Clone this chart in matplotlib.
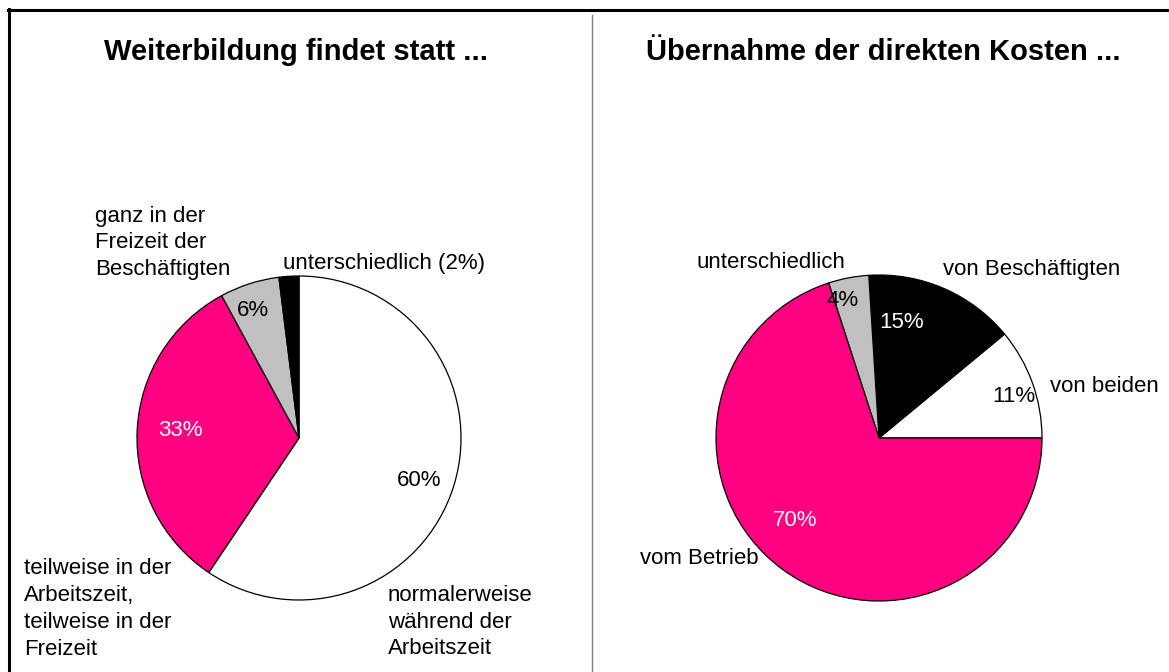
import matplotlib.pyplot as plt
from matplotlib.lines import Line2D

plt.rcParams['font.family'] = ['Liberation Sans', 'DejaVu Sans']

# Data
left_title = "Weiterbildung findet statt ..."
left_labels = ["normalerweise\nwährend der\nArbeitszeit",
               "teilweise in der\nArbeitszeit,\nteilweise in der\nFreizeit",
               "ganz in der\nFreizeit der\nBeschäftigten",
               "unterschiedlich (2%)"]
left_values = [60, 33, 6, 2]
left_pct = ["60%", "33%", "6%", ""]

right_title = "Übernahme der direkten Kosten ..."
right_labels = ["von beiden", "von Beschäftigten", "unterschiedlich", "vom Betrieb"]
right_values = [11, 15, 4, 70]
right_pct = ["11%", "15%", "4%", "70%"]

magenta = "#FF0080"
grey = "#C0C0C0"
left_colors = ["white", magenta, grey, "black"]
right_colors = ["white", "black", grey, magenta]

W, H = 1169, 672
fig = plt.figure(figsize=(W / 100, H / 100), dpi=100)
ax = fig.add_axes([0, 0, 1, 1])

def py(y):
    # pixel row -> data y
    return H - y

wp = dict(edgecolor="black", linewidth=0.9)
ax.pie(left_values, colors=left_colors, startangle=90, counterclock=False,
       center=(299, py(438)), radius=162, wedgeprops=wp)
ax.pie(right_values, colors=right_colors, startangle=0, counterclock=True,
       center=(879, py(438)), radius=163, wedgeprops=wp)

ax.set_xlim(0, W)
ax.set_ylim(0, H)
ax.set_aspect("auto")
ax.axis("off")

fs = 16
ls = 1.37
# titles
ax.text(296, py(52), left_title, ha="center", va="center", fontsize=21, fontweight="bold")
ax.text(883, py(52), right_title, ha="center", va="center", fontsize=21, fontweight="bold")

# left pie labels
ax.text(388, py(622), left_labels[0], ha="left", va="center", fontsize=fs, linespacing=ls)
ax.text(24, py(609), left_labels[1], ha="left", va="center", fontsize=fs, linespacing=ls)
ax.text(95, py(243), left_labels[2], ha="left", va="center", fontsize=fs, linespacing=ls)
ax.text(283, py(263), left_labels[3], ha="left", va="center", fontsize=fs)
ax.text(419, py(481), left_pct[0], ha="center", va="center", fontsize=fs)
ax.text(180, py(430), left_pct[1], ha="center", va="center", fontsize=fs, color="white")
ax.text(253, py(311), left_pct[2], ha="center", va="center", fontsize=fs)

# right pie labels
ax.text(1050, py(386), right_labels[0], ha="left", va="center", fontsize=fs)
ax.text(943, py(270), right_labels[1], ha="left", va="center", fontsize=fs)
ax.text(697, py(263), right_labels[2], ha="left", va="center", fontsize=fs)
ax.text(640, py(558), right_labels[3], ha="left", va="center", fontsize=fs)
ax.text(1014, py(397), right_pct[0], ha="center", va="center", fontsize=fs)
ax.text(902, py(323), right_pct[1], ha="center", va="center", fontsize=fs, color="white")
ax.text(843, py(301), right_pct[2], ha="center", va="center", fontsize=fs)
ax.text(795, py(521), right_pct[3], ha="center", va="center", fontsize=fs, color="white")

# frame lines and divider
ax.add_line(Line2D([9, 9], [0, py(9)], color="black", lw=2.2))
ax.add_line(Line2D([8, W], [py(9.5), py(9.5)], color="black", lw=2.2))
ax.add_line(Line2D([592, 592], [0, py(15)], color="#808080", lw=1))

plt.savefig("out.png", dpi=100)
